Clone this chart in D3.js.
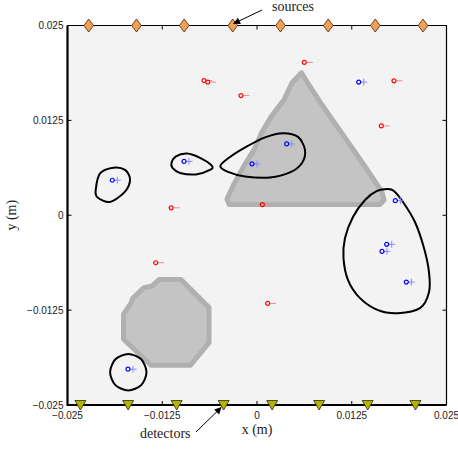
<!DOCTYPE html>
<html>
<head>
<meta charset="utf-8">
<script src="https://cdn.jsdelivr.net/npm/d3@7"></script>
<style>
  body { margin: 0; background: #fff; }
  svg { display: block; }
</style>
</head>
<body>
<div id="chart"></div>
<script>
// axis ticks (m)
const xTicks = [-0.025, -0.0125, 0, 0.0125, 0.025];
const yTicks = [-0.025, -0.0125, 0, 0.0125, 0.025];

// sources along the top edge, detectors along the bottom edge
const sourceX = [-0.0222, -0.0159, -0.0096, -0.0032, 0.0031, 0.0094, 0.0156, 0.0219];
const detectorX = [-0.0233, -0.0170, -0.0106, -0.0044, 0.0020, 0.0082, 0.0146, 0.0209];

// red estimates
const redX = [0.00624, -0.00699, -0.00650, -0.00211, 0.01807, 0.01640, -0.01132, 0.00070, -0.01336, 0.00141];
const redY = [0.02013, 0.01775, 0.01754, 0.01577, 0.01771, 0.01177, 0.00098, 0.00139, -0.00626, -0.01162];

// blue estimates
const blueX = [0.01342, -0.00963, -0.00066, 0.00392, -0.01909, 0.01825, 0.01711, 0.01649, 0.01970, -0.01702];
const blueY = [0.01754, 0.00709, 0.00676, 0.00940, 0.00461, 0.00192, -0.00383, -0.00476, -0.00881, -0.02028];

// gray inclusions (polygons, m)
const inclusionTri = [
  [0.00587, 0.01877], [0.00660, 0.01758], [0.00831, 0.01494], [0.01135, 0.01059],
  [0.01438, 0.00623], [0.01649, 0.00307], [0.01675, 0.00201], [0.01623, 0.00142],
  [-0.00369, 0.00142], [-0.00396, 0.00214], [-0.00317, 0.00386], [-0.00172, 0.00650],
  [-0.00040, 0.00861], [0.00053, 0.01072], [0.00185, 0.01296], [0.00356, 0.01520],
  [0.00462, 0.01745]
];
const inclusionOct = [
  [-0.01293, -0.00848], [-0.01003, -0.00848], [-0.00633, -0.01217], [-0.00633, -0.01679],
  [-0.00877, -0.01976], [-0.01398, -0.01976], [-0.01761, -0.01633], [-0.01761, -0.01303],
  [-0.01662, -0.01158], [-0.01642, -0.01098], [-0.01491, -0.00953], [-0.01385, -0.00933]
];

// black contours (closed curves, m)
const contourA = [
  [-0.02128, 0.00333], [-0.02071, 0.00553], [-0.01896, 0.00627], [-0.01741, 0.00597],
  [-0.01675, 0.00474], [-0.01741, 0.00311], [-0.01939, 0.00175], [-0.02107, 0.00237]
];
const contourB = [
  [-0.01128, 0.00689], [-0.01069, 0.00775], [-0.00923, 0.00812], [-0.00752, 0.00755],
  [-0.00594, 0.00650], [-0.00620, 0.00597], [-0.00805, 0.00538], [-0.01016, 0.00557],
  [-0.01115, 0.00623]
];
const contourC = [
  [-0.00484, 0.00650], [-0.00356, 0.00768], [-0.00132, 0.00907], [0.00106, 0.01026],
  [0.00343, 0.01081], [0.00541, 0.01032], [0.00633, 0.00861], [0.00594, 0.00689],
  [0.00435, 0.00564], [0.00172, 0.00498], [-0.00158, 0.00511], [-0.00383, 0.00571]
];
const contourD = [
  [0.01728, 0.00346], [0.01583, 0.00320], [0.01425, 0.00201], [0.01266, -0.00023],
  [0.01161, -0.00300], [0.01141, -0.00564], [0.01201, -0.00854], [0.01359, -0.01092],
  [0.01596, -0.01250], [0.01860, -0.01290], [0.02150, -0.01224], [0.02269, -0.01013],
  [0.02269, -0.00749], [0.02203, -0.00432], [0.02084, -0.00089], [0.01926, 0.00175],
  [0.01807, 0.00320]
];
const contourE = [
  [-0.01458, -0.02068], [-0.01528, -0.01898], [-0.01698, -0.01828], [-0.01868, -0.01898],
  [-0.01938, -0.02068], [-0.01868, -0.02238], [-0.01698, -0.02308], [-0.01528, -0.02238]
];
const contours = [contourA, contourB, contourC, contourD, contourE];

const width = 458;
const height = 449;
const plot = {left: 67.5, right: 446.5, top: 25.5, bottom: 405};

const x = d3.scaleLinear().domain([-0.025, 0.025]).range([plot.left, plot.right]);
const y = d3.scaleLinear().domain([-0.025, 0.025]).range([plot.bottom, plot.top]);

const fmt = d => d === 0 ? "0" : (d < 0 ? "\u2212" : "") + String(Math.abs(d));

const svg = d3.select("#chart")
    .append("svg")
    .attr("width", width)
    .attr("height", height);

const defs = svg.append("defs");
defs.append("marker")
    .attr("id", "arrow")
    .attr("viewBox", "0 0 10 10")
    .attr("refX", 9)
    .attr("refY", 5)
    .attr("markerWidth", 9)
    .attr("markerHeight", 7)
    .attr("markerUnits", "userSpaceOnUse")
    .attr("orient", "auto")
    .append("path")
    .attr("d", "M0,0 L10,5 L0,10 z")
    .attr("fill", "#000");

// image background
svg.append("rect")
    .attr("x", plot.left)
    .attr("y", plot.top)
    .attr("width", plot.right - plot.left)
    .attr("height", plot.bottom - plot.top)
    .attr("fill", "#f3f3f3");

// inclusions
const poly = d3.line().x(d => x(d[0])).y(d => y(d[1]));
svg.selectAll(".incl")
    .data([inclusionTri, inclusionOct])
    .enter().append("path")
    .attr("class", "incl")
    .attr("d", d => poly(d) + "Z")
    .attr("fill", "#c4c4c4")
    .attr("stroke", "#b0b0b0")
    .attr("stroke-width", 5)
    .attr("stroke-linejoin", "round");

// contours
const curve = d3.line()
    .x(d => x(d[0]))
    .y(d => y(d[1]))
    .curve(d3.curveCardinalClosed.tension(0.1));
svg.selectAll(".contour")
    .data(contours)
    .enter().append("path")
    .attr("class", "contour")
    .attr("d", curve)
    .attr("fill", "none")
    .attr("stroke", "#000")
    .attr("stroke-width", 2);

// red markers
const red = svg.selectAll(".red")
    .data(redX.map((d, i) => [d, redY[i]]))
    .enter().append("g")
    .attr("class", "red")
    .attr("transform", d => "translate(" + x(d[0]) + "," + y(d[1]) + ")");
red.append("line")
    .attr("x1", 2.5).attr("x2", 8.5).attr("y1", 0).attr("y2", 0)
    .attr("stroke", "#f48a8a")
    .attr("stroke-width", 1);
red.append("circle")
    .attr("r", 2)
    .attr("fill", "none")
    .attr("stroke", "#ff0000")
    .attr("stroke-width", 1.2);

// blue markers
const blue = svg.selectAll(".blue")
    .data(blueX.map((d, i) => [d, blueY[i]]))
    .enter().append("g")
    .attr("class", "blue")
    .attr("transform", d => "translate(" + x(d[0]) + "," + y(d[1]) + ")");
blue.append("path")
    .attr("d", "M1.5,0 H8.5 M5,-3.5 V3.5")
    .attr("stroke", "#8a8aff")
    .attr("stroke-width", 1)
    .attr("fill", "none");
blue.append("circle")
    .attr("r", 2)
    .attr("fill", "none")
    .attr("stroke", "#0000ff")
    .attr("stroke-width", 1.2);

// frame
svg.append("path")
    .attr("d", "M" + plot.left + "," + plot.top + " H" + plot.right + " V" + plot.bottom)
    .attr("fill", "none")
    .attr("stroke", "#000")
    .attr("stroke-width", 1.2);
svg.append("path")
    .attr("d", "M" + plot.left + "," + plot.top + " V" + plot.bottom + " H" + plot.right)
    .attr("fill", "none")
    .attr("stroke", "#000")
    .attr("stroke-width", 2.2);

// ticks (inward, mirrored)
const ticks = svg.append("g").attr("stroke", "#000").attr("stroke-width", 1);
xTicks.forEach(t => {
    ticks.append("line").attr("x1", x(t)).attr("x2", x(t)).attr("y1", plot.bottom).attr("y2", plot.bottom - 4);
    ticks.append("line").attr("x1", x(t)).attr("x2", x(t)).attr("y1", plot.top).attr("y2", plot.top + 4);
});
yTicks.forEach(t => {
    ticks.append("line").attr("x1", plot.left).attr("x2", plot.left + 4).attr("y1", y(t)).attr("y2", y(t));
    ticks.append("line").attr("x1", plot.right).attr("x2", plot.right - 4).attr("y1", y(t)).attr("y2", y(t));
});

// tick labels
svg.selectAll(".xlab")
    .data(xTicks)
    .enter().append("text")
    .attr("class", "xlab")
    .attr("x", d => x(d))
    .attr("y", plot.bottom + 14)
    .attr("text-anchor", "middle")
    .style("font-family", "'Liberation Sans', Arial, sans-serif")
    .style("font-size", "10px")
    .attr("fill", "#222")
    .text(fmt);

svg.selectAll(".ylab")
    .data(yTicks)
    .enter().append("text")
    .attr("class", "ylab")
    .attr("x", plot.left - 4)
    .attr("y", d => y(d) + 3.5)
    .attr("text-anchor", "end")
    .style("font-family", "'Liberation Sans', Arial, sans-serif")
    .style("font-size", "10px")
    .attr("fill", "#222")
    .text(fmt);

// sources (diamonds) and detectors (triangles)
svg.selectAll(".src")
    .data(sourceX)
    .enter().append("path")
    .attr("class", "src")
    .attr("transform", d => "translate(" + x(d) + "," + plot.top + ")")
    .attr("d", "M0,-6.5 L4.8,0 L0,6.5 L-4.8,0 Z")
    .attr("fill", "#f5a04f")
    .attr("stroke", "#3a2a10")
    .attr("stroke-width", 0.8);

svg.selectAll(".det")
    .data(detectorX)
    .enter().append("path")
    .attr("class", "det")
    .attr("transform", d => "translate(" + x(d) + "," + plot.bottom + ")")
    .attr("d", "M-5.5,-4.5 L5.5,-4.5 L0,5 Z")
    .attr("fill", "#b4b400")
    .attr("stroke", "#2a2a00")
    .attr("stroke-width", 0.8);

// axis titles
const serif = "'Liberation Serif', 'Times New Roman', serif";
svg.append("text")
    .attr("x", x(0))
    .attr("y", 434)
    .attr("text-anchor", "middle")
    .style("font-family", serif)
    .style("font-size", "14px")
    .attr("fill", "#222")
    .text("x (m)");

svg.append("text")
    .attr("transform", "translate(16," + y(0) + ") rotate(-90)")
    .attr("text-anchor", "middle")
    .style("font-family", serif)
    .style("font-size", "14px")
    .attr("fill", "#222")
    .text("y (m)");

// annotations
svg.append("text")
    .attr("x", 272)
    .attr("y", 11)
    .style("font-family", serif)
    .style("font-size", "14px")
    .attr("fill", "#222")
    .text("sources");
svg.append("line")
    .attr("x1", 262).attr("y1", 10)
    .attr("x2", x(sourceX[3]) + 1).attr("y2", 23.5)
    .attr("stroke", "#000")
    .attr("stroke-width", 1)
    .attr("marker-end", "url(#arrow)");

svg.append("text")
    .attr("x", 140)
    .attr("y", 438)
    .style("font-family", serif)
    .style("font-size", "14px")
    .attr("fill", "#222")
    .text("detectors");
svg.append("line")
    .attr("x1", 196).attr("y1", 432)
    .attr("x2", x(detectorX[3]) - 2.5).attr("y2", 407.5)
    .attr("stroke", "#000")
    .attr("stroke-width", 1)
    .attr("marker-end", "url(#arrow)");
</script>
</body>
</html>
